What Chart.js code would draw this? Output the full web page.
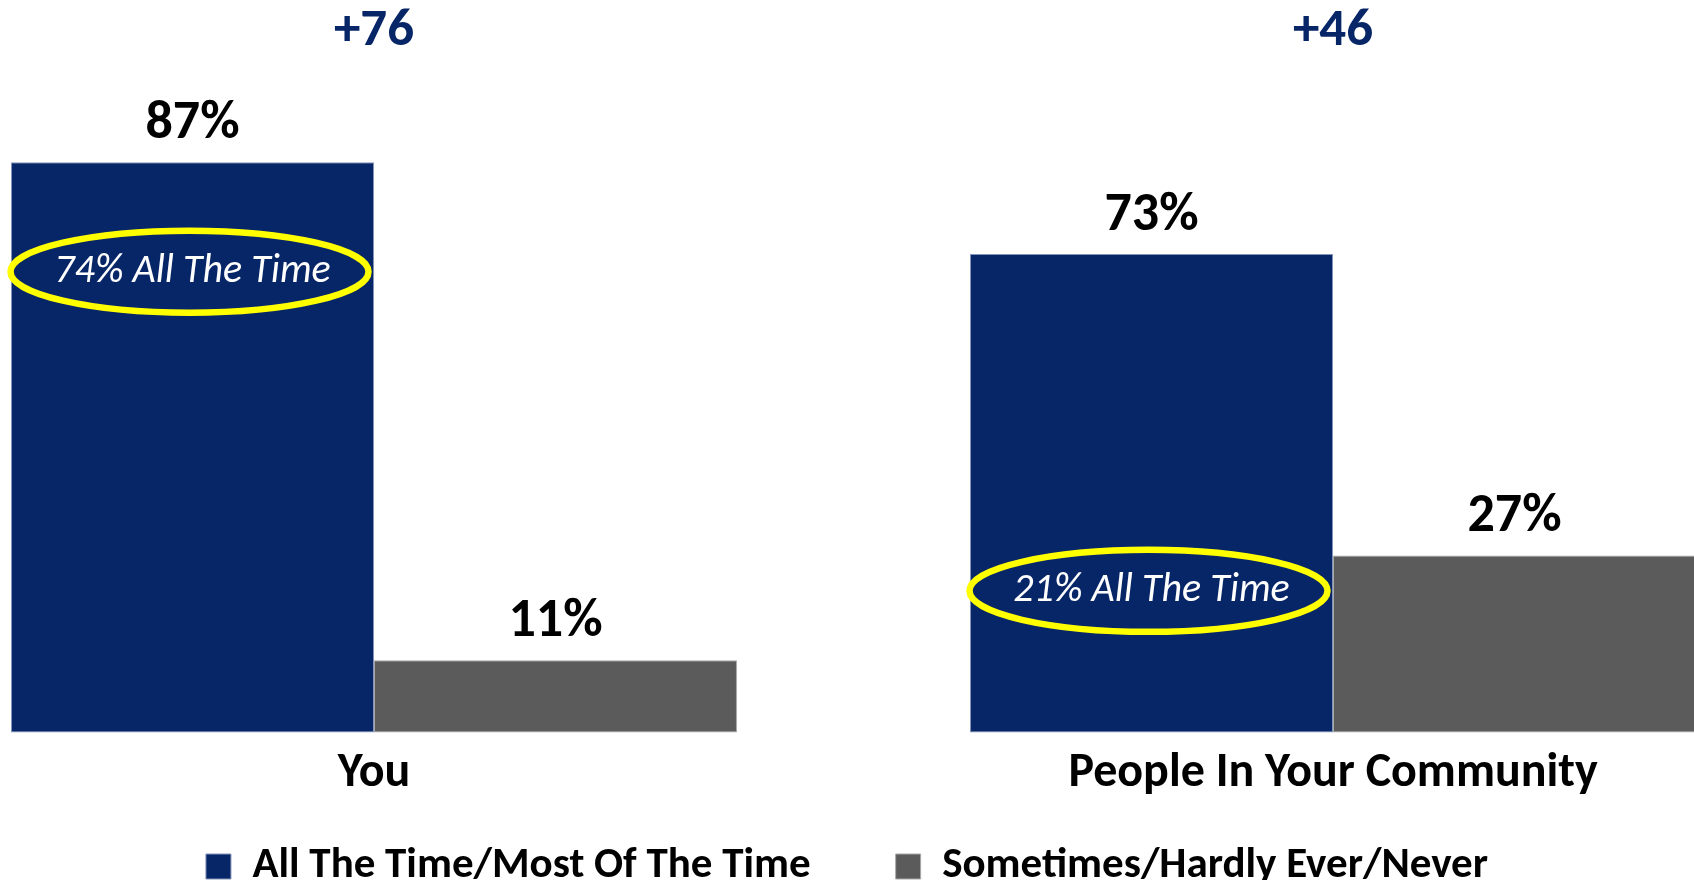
<!DOCTYPE html>
<html>
<head>
<meta charset="utf-8">
<title>You vs People In Your Community</title>
<script src="https://cdn.jsdelivr.net/npm/chart.js@4.4.1/dist/chart.umd.min.js"></script>
<style>
  html, body { margin: 0; padding: 0; background: #fff; }
  canvas { display: block; }
</style>
</head>
<body>
<canvas id="bar-chart" width="1694" height="880"></canvas>
<script>
// data
const categories = ['You', 'People In Your Community'];
const seriesNames = ['All The Time/Most Of The Time', 'Sometimes/Hardly Ever/Never'];
const mostValues = [87, 73];
const rarelyValues = [11, 27];
const allTheTime = [74, 21];

const navy = '#072667';
const grey = '#5b5b5b';
const family = 'Calibri, Carlito, Lato, sans-serif';

// value labels, gap labels and the yellow notes
const labelPlugin = {
  id: 'barLabels',
  afterLayout(chart) {
    // legend labels need a wide gap, pull the row back up under the axis
    chart.legend.top -= 56;
    chart.legend.bottom -= 56;
  },
  afterDatasetsDraw(chart) {
    const ctx = chart.ctx;
    const xScale = chart.scales.x;
    const yScale = chart.scales.y;
    const noteLevels = [70.3, 21.6];
    ctx.save();
    ctx.textAlign = 'center';

    chart.getDatasetMeta(0).data.forEach((bar, i) => {
      const cy = yScale.getPixelForValue(noteLevels[i]);
      ctx.beginPath();
      ctx.ellipse(bar.x - 3, cy, 179, 41, 0, 0, Math.PI * 2);
      ctx.lineWidth = 6.5;
      ctx.strokeStyle = '#ffff00';
      ctx.stroke();
      ctx.fillStyle = '#ffffff';
      ctx.font = 'italic 40px ' + family;
      ctx.textBaseline = 'middle';
      ctx.fillText(allTheTime[i] + '% All The Time', bar.x, cy);
    });

    ctx.textBaseline = 'alphabetic';
    ctx.fillStyle = '#000000';
    ctx.font = 'bold 54px ' + family;
    chart.data.datasets.forEach((ds, d) => {
      chart.getDatasetMeta(d).data.forEach((bar, i) => {
        ctx.fillText(ds.data[i] + '%', bar.x, bar.y - 24);
      });
    });

    ctx.fillStyle = navy;
    ctx.font = 'bold 53px ' + family;
    categories.forEach((c, i) => {
      const gap = mostValues[i] - rarelyValues[i];
      ctx.fillText('+' + gap, xScale.getPixelForValue(i), chart.chartArea.top - 32);
    });
    ctx.restore();
  }
};

new Chart(document.getElementById('bar-chart'), {
  type: 'bar',
  data: {
    labels: categories,
    datasets: [
      {
        label: seriesNames[0],
        data: mostValues,
        backgroundColor: navy,
        borderColor: '#8393b8',
        borderWidth: 1,
        borderSkipped: false
      },
      {
        label: seriesNames[1],
        data: rarelyValues,
        backgroundColor: grey,
        borderColor: '#a9a9a9',
        borderWidth: 1,
        borderSkipped: false
      }
    ]
  },
  options: {
    responsive: false,
    animation: false,
    devicePixelRatio: 1,
    datasets: {
      bar: { categoryPercentage: 0.757, barPercentage: 1, clip: false }
    },
    layout: { padding: { top: 77, bottom: -74, left: 0, right: 0 } },
    scales: {
      x: {
        offset: false,
        grid: { display: false, drawTicks: false },
        border: { display: false },
        ticks: {
          color: '#000000',
          font: { family: family, size: 48, weight: 'bold' },
          padding: 13,
          maxRotation: 0,
          autoSkip: false
        },
        afterFit(scale) {
          // bars sit wider than the axis, so push the plot area in
          scale.paddingLeft = 374;
          scale.paddingRight = 361;
        }
      },
      y: { display: false, min: 0, max: 100 }
    },
    plugins: {
      legend: {
        position: 'bottom',
        labels: {
          boxWidth: 25,
          boxHeight: 25,
          padding: 85,
          color: '#000000',
          font: { family: family, size: 43, weight: 'bold' }
        }
      },
      tooltip: { enabled: false }
    }
  },
  plugins: [labelPlugin]
});
</script>
</body>
</html>
